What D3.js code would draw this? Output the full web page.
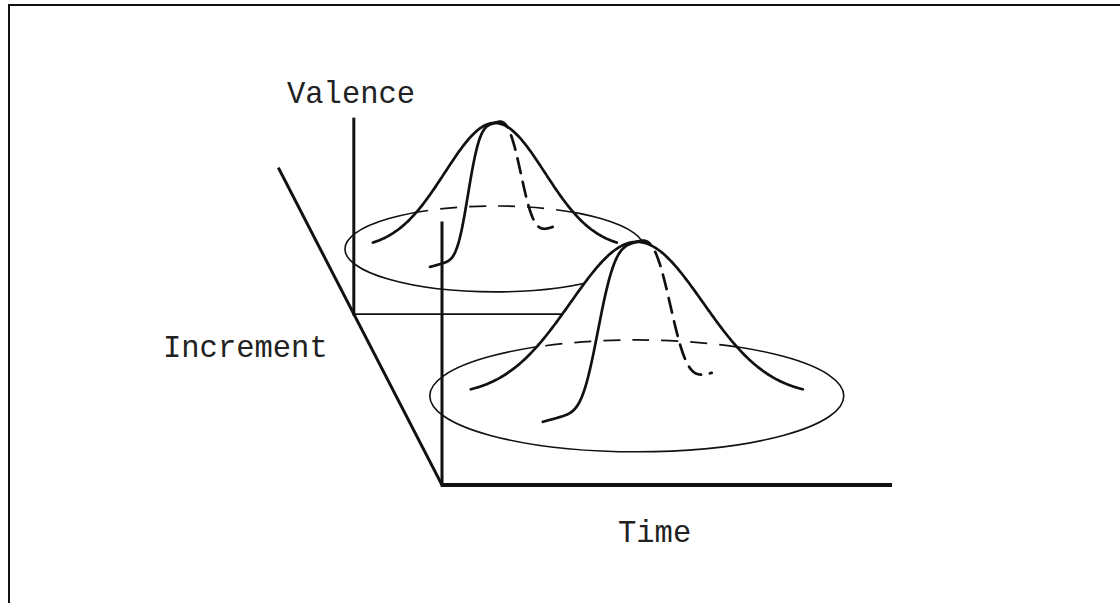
<!DOCTYPE html>
<html><head><meta charset="utf-8">
<script src="https://cdn.jsdelivr.net/npm/d3@7"></script>
<style>html,body{margin:0;padding:0;background:#fff;overflow:hidden}</style>
</head><body><svg id="c" width="1120" height="603"></svg>
<script>
// ---- data (diagram units: time, increment, valence) ----
const axisLabels = ["Valence", "Increment", "Time"];
const timeRange = [0, 10];
const valenceRange = [0, 10];
const incrementRange = [0, 1];
const backPlaneIncrement = 0.541;
const backValenceMax = 7.44;
const backTimeMax = 5.5;

const bellTime = [3.88, 5.35];          // centre of each bell on the time axis
const bellIncrement = [0.747, 0.282];   // centre of each bell on the increment axis
const bellPeak = [4.81, 5.88];          // peak valence
const bellSigma = [1.11, 1.47];         // spread in time
const bellFoot = [2.71, 3.69];          // half extent of the drawn profile
const bellBaseTime = [3.33, 4.6];       // base ellipse radius (time)
const bellBaseInc = [0.136, 0.177];     // base ellipse radius (increment)
const frontMeridian = [[-0.433, 0.419], [-0.454, 0.464]];
const backMeridian = [[0.387, -0.512], [0.362, -0.41]];
const frontShape = [0.374, 3.5];
const backShape = [0.41, 3.0];

// ---- scales ----
const xTime = d3.scaleLinear().domain(timeRange).range([442, 892]);
const yVal = d3.scaleLinear().domain(valenceRange).range([0, 262]);
const incX = d3.scaleLinear().domain(incrementRange).range([0, -163]);
const incY = d3.scaleLinear().domain(incrementRange).range([485, 169]);
const P = (t, i, v) => [xTime(t) + incX(i), incY(i) - yVal(v)];

const svg = d3.select("#c");
const line = d3.line();
const ink = "#111";

// border
svg.append("path").attr("d", line([[9, 603], [9, 5], [1120, 5]]))
  .attr("fill", "none").attr("stroke", ink).attr("stroke-width", 2);

const g = svg.append("g");

function seg(a, b, w) {
  g.append("path").attr("d", line([a, b])).attr("fill", "none")
    .attr("stroke", ink).attr("stroke-width", w).attr("stroke-linecap", "square");
}

// increment axis (diagonal)
seg(P(0, incrementRange[1], 0), P(0, 0, 0), 3);

function profile(u, s) { return Math.exp(-0.5 * Math.pow(u / s[0], s[1])); }

function drawBell(k) {
  const tc = bellTime[k], ic = bellIncrement[k], pk = bellPeak[k];
  const sg = bellSigma[k], ft = bellFoot[k];
  const [cx, cy] = P(tc, ic, 0);
  const rx = xTime(bellBaseTime[k]) - xTime(0);
  const ry = incY(0) - incY(bellBaseInc[k]);

  const outline = d3.range(-ft, ft + 1e-9, ft / 120)
    .map(dt => P(tc + dt, ic, pk * Math.exp(-dt * dt / (2 * sg * sg))));

  const meridian = (m, s) => d3.range(0, 1.0001, 0.01).map(u => [
    P(tc + u * m[0] * bellBaseTime[k], ic, 0)[0],
    P(tc, ic - u * m[1] * bellBaseInc[k], pk * profile(u, s))[1]
  ]);

  // base ellipse (visible rim)
  g.append("ellipse").attr("cx", cx).attr("cy", cy).attr("rx", rx).attr("ry", ry)
    .attr("fill", "none").attr("stroke", ink).attr("stroke-width", 1.6);

  // opaque bell surface
  const sil = line(outline) + "Z";
  g.append("path").attr("d", sil).attr("fill", "#fff").attr("stroke", "none");
  const cid = "clip" + k;
  svg.append("clipPath").attr("id", cid).append("path").attr("d", sil);

  // hidden rim, dashed
  g.append("ellipse").attr("cx", cx).attr("cy", cy).attr("rx", rx).attr("ry", ry)
    .attr("clip-path", `url(#${cid})`)
    .attr("fill", "none").attr("stroke", ink).attr("stroke-width", 1.7)
    .attr("stroke-dasharray", "17,12");

  const curve = (pts, dash) => {
    const p = g.append("path").attr("d", d3.line().curve(d3.curveBasis)(pts))
      .attr("fill", "none").attr("stroke", ink).attr("stroke-width", 2.7)
      .attr("stroke-linecap", "round").attr("stroke-linejoin", "round");
    if (dash) p.attr("stroke-dasharray", dash);
  };
  curve(outline);
  curve(meridian(frontMeridian[k], frontShape));
  curve(meridian(backMeridian[k], backShape), "15,9");
}

drawBell(0);

// back plane axes
seg(P(0, backPlaneIncrement, 0), P(0, backPlaneIncrement, backValenceMax), 3);
g.append("path").attr("d", line([P(0, backPlaneIncrement, 0), P(backTimeMax, backPlaneIncrement, 0)]))
  .attr("fill", "none").attr("stroke", ink).attr("stroke-width", 1.8);

drawBell(1);

// front axes
seg(P(0, 0, 0), P(0, 0, valenceRange[1]), 3);
g.append("path").attr("d", line([P(0, 0, 0), P(timeRange[1], 0, 0)]))
  .attr("fill", "none").attr("stroke", ink).attr("stroke-width", 4);

// labels
const font = "'Courier New', 'Liberation Mono', monospace";
const labelPos = [[287, 103], [163, 357], [618, 542]];
svg.selectAll("text.lab").data(axisLabels).join("text").attr("class", "lab")
  .attr("x", (d, i) => labelPos[i][0]).attr("y", (d, i) => labelPos[i][1])
  .attr("font-family", font).attr("font-size", 30.5).attr("fill", "#222")
  .text(d => d);
</script></body></html>
